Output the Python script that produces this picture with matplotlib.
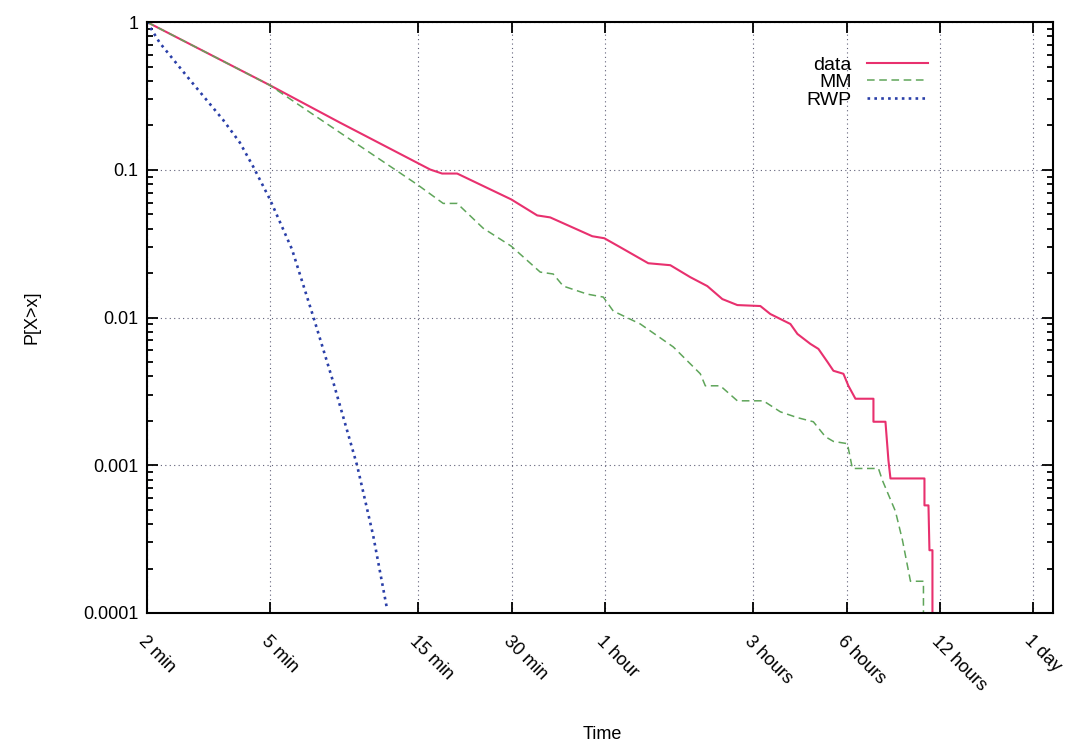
import numpy as np
import matplotlib
matplotlib.use("Agg")
import matplotlib.pyplot as plt
from matplotlib.ticker import FixedLocator, NullLocator, LogLocator

plt.rcParams['font.family'] = ['Liberation Sans', 'DejaVu Sans']

# time in seconds, P[X>x]
data_t = [120, 297, 503, 982, 1073, 1200, 1793, 2174, 2394, 3271, 3577, 4027, 4958,
          5839, 6773, 7684, 8591, 9604, 11392, 12267, 14239, 15003, 16514, 17532,
          18743, 19596, 21108, 21900, 23076, 26376, 26376, 28836, 29484, 29928,
          38520, 38520, 39684, 39972, 40872, 40872]
data_p = [1, 0.376, 0.2084, 0.1004, 0.0943, 0.0943, 0.0630, 0.0491, 0.0476, 0.0355,
          0.0344, 0.0299, 0.0233, 0.0226, 0.01875, 0.01632, 0.01333, 0.01214, 0.01196,
          0.01056, 0.00904, 0.00774, 0.00663, 0.00613, 0.00501, 0.00436, 0.00416,
          0.00345, 0.00282, 0.00282, 0.00197, 0.00197, 0.001076, 0.000814,
          0.000814, 0.000535, 0.000535, 0.000266, 0.000266, 0.00005]

mm_t = [120, 297, 503, 892, 1082, 1200, 1456, 1793, 2223, 2448, 2637, 3152, 3550,
        3823, 4673, 5971, 7295, 7572, 8462, 9604, 11648, 13215, 15003, 16884, 18461,
        19596, 21740, 22560, 27376, 28199, 31054, 32716, 34719, 38232, 38232]
mm_p = [1, 0.376, 0.1784, 0.0795, 0.0592, 0.0592, 0.0402, 0.0304, 0.0203, 0.0197,
        0.01632, 0.01440, 0.01375, 0.01106, 0.00904, 0.00632, 0.00416, 0.00345,
        0.00345, 0.00273, 0.00273, 0.00230, 0.00210, 0.00197, 0.00156, 0.00145,
        0.00140, 0.000951, 0.000951, 0.000789, 0.000488, 0.000311, 0.000164,
        0.000164, 0.00005]

rwp_t = [120, 132, 165, 211, 239, 264, 299, 352, 412, 478, 571, 643, 714]
rwp_p = [1, 0.722, 0.406, 0.218, 0.153, 0.105, 0.063, 0.029, 0.0102, 0.00367,
         0.000996, 0.000336, 0.000105]

tick_pos = [120, 300, 900, 1800, 3600, 10800, 21600, 43200, 86400]
tick_lab = ['2 min', '5 min', '15 min', '30 min', '1 hour', '3 hours',
            '6 hours', '12 hours', '1 day']
ytick_pos = [1, 0.1, 0.01, 0.001, 0.0001]
ytick_lab = ['1', '0.1', '0.01', '0.001', '0.0001']

fig = plt.figure(figsize=(10.76, 7.47), dpi=100)
ax = fig.add_axes([0.1366, 0.1794, 0.842, 0.7911])

ax.plot(data_t, data_p, color='#e8306e', lw=1.5, label='data')
ax.plot(mm_t, mm_p, color='#5fa55a', lw=1.1, dashes=(5, 3), label='MM')
ax.plot(rwp_t, rwp_p, color='#2a3fa8', lw=1.9, dashes=(1, 1.6), label='RWP')

ax.set_xscale('log')
ax.set_yscale('log')
ax.set_xlim(120, 100000)
ax.set_ylim(0.0001, 1)

ax.xaxis.set_major_locator(FixedLocator(tick_pos))
ax.xaxis.set_minor_locator(NullLocator())
ax.set_xticklabels(tick_lab, rotation=-45, ha='left', va='top',
                   rotation_mode='anchor', fontsize=13)
ax.yaxis.set_major_locator(FixedLocator(ytick_pos))
ax.yaxis.set_minor_locator(LogLocator(base=10, subs=np.arange(2, 10)))
ax.set_yticklabels(ytick_lab, fontsize=13)

ax.tick_params(which='both', direction='in', top=True, right=True, width=1.3)
ax.tick_params(which='major', length=8)
ax.tick_params(which='minor', length=4)
ax.tick_params(axis='y', pad=6)
ax.tick_params(axis='x', pad=14)

for s in ax.spines.values():
    s.set_linewidth(1.5)

ax.grid(True, which='major', color='#606078', lw=0.8, linestyle=(0, (1, 3)))

ax.set_xlabel('Time', fontsize=13, va='center')
ax.xaxis.set_label_coords(0.503, -0.206)
ax.set_ylabel('P[X>x]', fontsize=13, va='center')
ax.yaxis.set_label_coords(-0.127, 0.5)

leg = ax.legend(loc='upper right', bbox_to_anchor=(0.881, 0.972), frameon=False,
                markerfirst=False, fontsize=14, handlelength=3.1,
                labelspacing=0.0, handletextpad=0.8)

fig.savefig('out.png', dpi=100)
